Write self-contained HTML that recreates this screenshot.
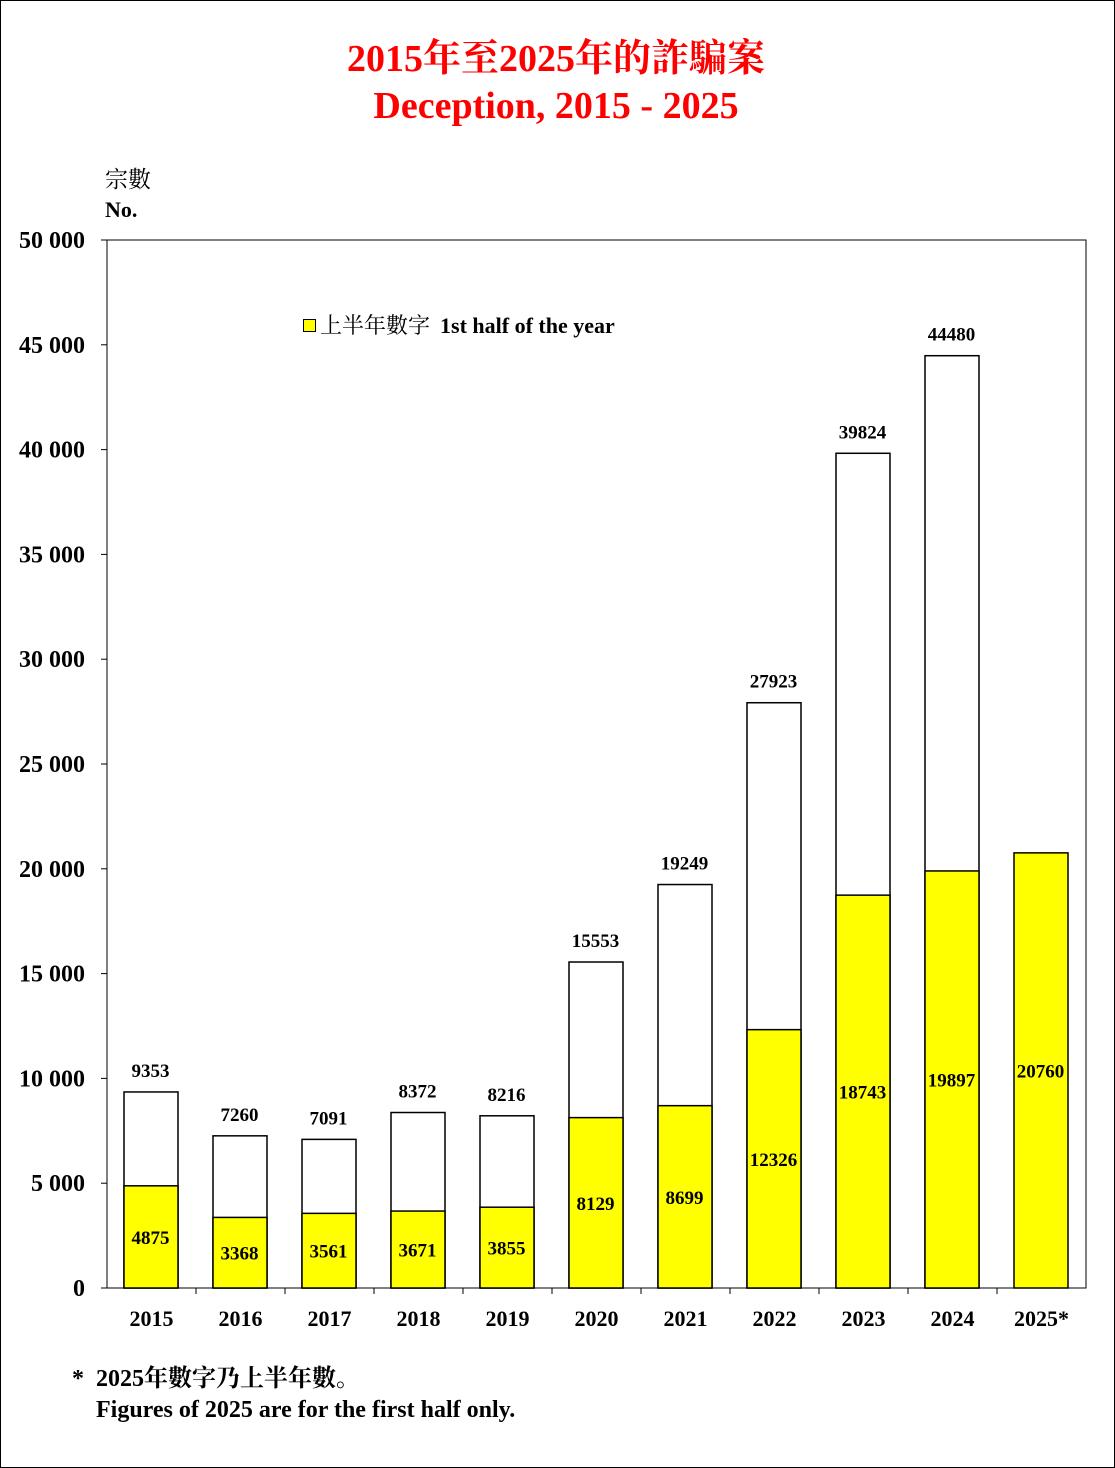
<!DOCTYPE html>
<html><head><meta charset="utf-8">
<style>
html,body{margin:0;padding:0;background:#fff;}
svg{display:block;}
text{font-family:"Liberation Serif","Noto Serif CJK SC",serif;}
</style></head>
<body>
<svg id="chart" width="1115" height="1468" viewBox="0 0 1115 1468" xmlns="http://www.w3.org/2000/svg">
<rect x="0.5" y="0.5" width="1114" height="1467" fill="#fff" stroke="#000" stroke-width="1"/>
<text x="556" y="71" text-anchor="middle" font-size="38" font-weight="bold" fill="#ff0000">2015年至2025年的詐騙案</text>
<text x="556" y="118" text-anchor="middle" font-size="38" font-weight="bold" fill="#ff0000">Deception, 2015 - 2025</text>
<text x="105" y="187" font-size="23">宗數</text>
<text x="105" y="217" font-size="22" font-weight="bold">No.</text>
<rect x="107" y="240" width="979" height="1048" fill="none" stroke="#000" stroke-width="1"/>
<g id="yaxis"></g>
<g id="xaxis"></g>
<g id="bars"></g>
<g>
<rect x="303.5" y="319.5" width="12" height="12" fill="#ffff00" stroke="#000"/>
<text x="320" y="333" font-size="22"><tspan>上半年數字</tspan><tspan dx="10" font-weight="bold">1st half of the year</tspan></text>
</g>
<text x="72" y="1386" font-size="24" font-weight="bold">*<tspan x="96">2025年數字乃上半年數。</tspan></text>
<text x="96" y="1417" font-size="24" font-weight="bold">Figures of 2025 are for the first half only.</text>
</svg>
<script>
const categories=["2015","2016","2017","2018","2019","2020","2021","2022","2023","2024","2025*"];
const totalValues=[9353,7260,7091,8372,8216,15553,19249,27923,39824,44480,null];
const firstHalfValues=[4875,3368,3561,3671,3855,8129,8699,12326,18743,19897,20760];
const yTicks=[0,5000,10000,15000,20000,25000,30000,35000,40000,45000,50000];
const yTickLabels=["0","5 000","10 000","15 000","20 000","25 000","30 000","35 000","40 000","45 000","50 000"];

const NS="http://www.w3.org/2000/svg";
const plotL=107,plotR=1086,plotT=240,plotB=1288,yMax=50000;
const y=v=>plotB-(v/yMax)*(plotB-plotT);
const band=(plotR-plotL)/categories.length;
const xc=i=>plotL+band*(i+0.5);
const barW=54;
function mk(tag,attrs,parent){const e=document.createElementNS(NS,tag);for(const k in attrs)e.setAttribute(k,attrs[k]);parent.appendChild(e);return e;}
const ya=document.getElementById('yaxis'),xa=document.getElementById('xaxis'),bg=document.getElementById('bars');
yTicks.forEach((t,i)=>{
  const ln=mk('line',{x1:101,x2:107,y1:y(t),y2:y(t),stroke:'#000'},ya);
  
  
  const tx=mk('text',{x:85,y:y(t)+8,'text-anchor':'end','font-size':24,'font-weight':'bold'},ya);
  tx.textContent=yTickLabels[i];
  
  
});
categories.forEach((c,i)=>{
  if(i>0){const tk=mk('line',{x1:plotL+band*i,x2:plotL+band*i,y1:plotB,y2:plotB+6,stroke:'#000'},xa);
  
  }
  const tx=mk('text',{x:xc(i),y:1326,'text-anchor':'middle','font-size':22,'font-weight':'bold'},xa);
  tx.textContent=c;
  
  
  const x0=xc(i)-barW/2-1;
  const tot=totalValues[i];
  if(tot!=null){
    const r=mk('rect',{x:x0+0.5,y:y(tot),width:barW,height:plotB-y(tot),fill:'#fff',stroke:'#000','stroke-width':1.5},bg);
    
    
    const lt=mk('text',{x:xc(i)-1,y:y(tot)-15,'text-anchor':'middle','font-size':19,'font-weight':'bold'},bg);
    lt.textContent=tot;
    
    
  }
  const fh=firstHalfValues[i];
  const r2=mk('rect',{x:x0+0.5,y:y(fh),width:barW,height:plotB-y(fh),fill:'#ffff00',stroke:'#000','stroke-width':1.5},bg);
  
  
  const lf=mk('text',{x:xc(i)-1,y:(y(fh)+plotB)/2+7,'text-anchor':'middle','font-size':19,'font-weight':'bold'},bg);
  lf.textContent=fh;
  
  
});
</script>
</body></html>
